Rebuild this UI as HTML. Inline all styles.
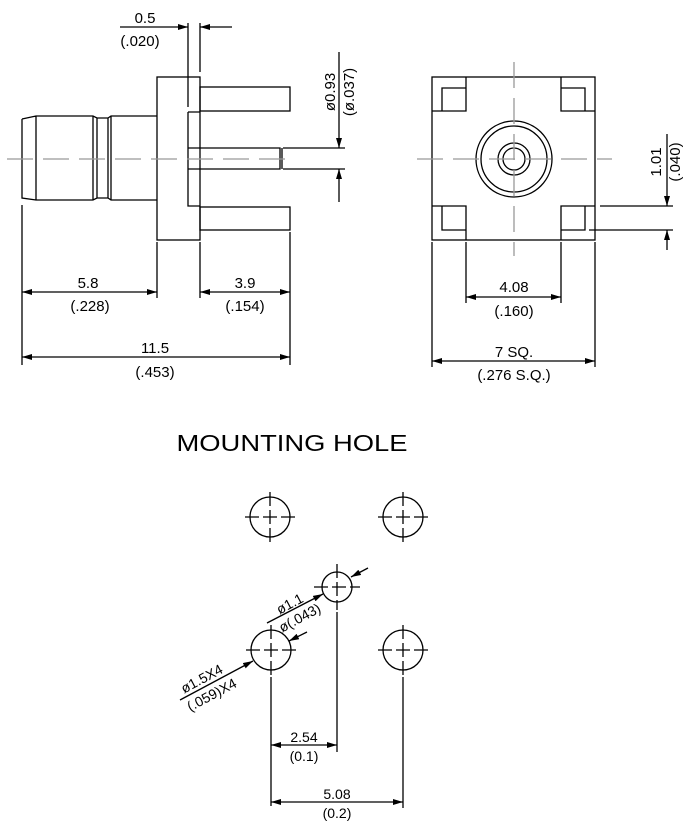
<!DOCTYPE html>
<html><head><style>body{margin:0;background:#fff}svg{display:block}</style></head><body>
<svg width="695" height="826" viewBox="0 0 695 826" xmlns="http://www.w3.org/2000/svg" font-family="Liberation Sans, sans-serif" fill="none">
<defs>
<marker id="a" viewBox="0 0 10 6" refX="10" refY="3" markerWidth="10" markerHeight="6" orient="auto-start-reverse" markerUnits="userSpaceOnUse"><path d="M0,0L10,3L0,6z" fill="#000"/></marker>
</defs>
<g stroke="#000" stroke-width="1.3">
<path d="M22,119 L36,116 L93,116 L97,118 L108,118 L111,116 L157,116 M22,119 L22,198 L36,200 L93,200 L97,198 L108,198 L111,200 L157,200 M36,116 V200 M93,116 V200 M97,118 V198 M108,118 V198 M111,116 V200"/>
<rect x="157" y="77" width="43" height="163"/>
<path d="M188,112 H200 M188,112 V206 H200"/>
<rect x="200" y="87" width="90" height="24"/>
<rect x="200" y="207" width="90" height="23"/>
<path d="M188,148 H280 V169 H188 M282,148 V169"/>
<path d="M188,23 V107 M200,23 V72"/>
<path d="M120,27 H188" marker-end="url(#a)"/>
<path d="M232,27 H200" marker-end="url(#a)"/>
<path d="M283,148 H345 M283,169 H345"/>
<path d="M339,52 V148" marker-end="url(#a)"/>
<path d="M339,202 V169" marker-end="url(#a)"/>
<path d="M22,205 V365 M157,242 V298 M200,242 V298 M290,232 V365"/>
<path d="M22,292 H157" marker-start="url(#a)" marker-end="url(#a)"/>
<path d="M200,292 H290" marker-start="url(#a)" marker-end="url(#a)"/>
<path d="M22,357 H290" marker-start="url(#a)" marker-end="url(#a)"/>
<rect x="432" y="77" width="163" height="163"/>
<path d="M432,111 H466 V77 M442,111 V88 H466 M595,111 H561 V77 M585,111 V88 H561 M432,206 H466 V240 M442,206 V230 H466 M595,206 H561 V240 M585,206 V230 H561"/>
<circle cx="514" cy="159" r="38"/><circle cx="514" cy="159" r="33"/><circle cx="514" cy="159" r="16"/><circle cx="514" cy="159" r="11"/>
<path d="M600,206 H673 M589,230 H673"/>
<path d="M667,134 V206" marker-end="url(#a)"/>
<path d="M667,250 V230" marker-end="url(#a)"/>
<path d="M466,242 V303 M561,242 V303 M432,242 V367 M595,242 V367"/>
<path d="M466,297 H561" marker-start="url(#a)" marker-end="url(#a)"/>
<path d="M432,361 H595" marker-start="url(#a)" marker-end="url(#a)"/>
</g>
<g stroke="#999" stroke-width="1.3" stroke-dasharray="26,10">
<path d="M7,159 H295"/>
<path d="M417,159 H612"/>
<path d="M514,62 V256"/>
</g>
<g stroke="#000" stroke-width="1.3">
<circle cx="270" cy="517" r="20"/><circle cx="403" cy="517" r="20"/>
<circle cx="271" cy="650" r="20"/><circle cx="403" cy="650" r="20"/>
<circle cx="337" cy="587" r="15"/>
<path d="M245,517 H295 M270,492 V542 M378,517 H428 M403,492 V542 M246,650 H296 M271,625 V675 M378,650 H428 M403,625 V675 M314,587 H360 M337,564 V610" stroke-dasharray="14,4"/>
<path d="M271,677 V806 M337,612 V752 M403,677 V808"/>
<path d="M271,745 H337" marker-start="url(#a)" marker-end="url(#a)"/>
<path d="M271,802 H403" marker-start="url(#a)" marker-end="url(#a)"/>
<path d="M180,700 L253,661" marker-end="url(#a)"/>
<path d="M307,632 L289,641" marker-end="url(#a)"/>
<path d="M267,623 L323,594" marker-end="url(#a)"/>
<path d="M368,568 L351,577" marker-end="url(#a)"/>
</g>
<g fill="#000" font-size="15" text-anchor="middle">
<text x="145" y="23">0.5</text><text x="140" y="46">(.020)</text>
<text x="88" y="288">5.8</text><text x="90" y="311">(.228)</text>
<text x="245" y="288">3.9</text><text x="245" y="311">(.154)</text>
<text x="155" y="353">11.5</text><text x="155" y="377">(.453)</text>
<text x="514" y="292">4.08</text><text x="514" y="316">(.160)</text>
<text x="514" y="357">7 SQ.</text><text x="514" y="380">(.276 S.Q.)</text>
<text transform="translate(335,92) rotate(-90)">ø0.93</text>
<text transform="translate(354,92) rotate(-90)">(ø.037)</text>
<text transform="translate(661,162) rotate(-90)">1.01</text>
<text transform="translate(680,162) rotate(-90)">(.040)</text>
<text x="292" y="451" font-size="23" textLength="231" lengthAdjust="spacingAndGlyphs">MOUNTING HOLE</text>
<g font-size="14">
<text x="304" y="742">2.54</text><text x="304" y="761">(0.1)</text>
<text x="337" y="799">5.08</text><text x="337" y="818">(0.2)</text>
<text transform="translate(204,683) rotate(-28)">ø1.5X4</text>
<text transform="translate(214,699) rotate(-28)">(.059)X4</text>
<text transform="translate(292,608) rotate(-28)">ø1.1</text>
<text transform="translate(302,622) rotate(-28)">ø(.043)</text>
</g>
</g>
</svg>
</body></html>
